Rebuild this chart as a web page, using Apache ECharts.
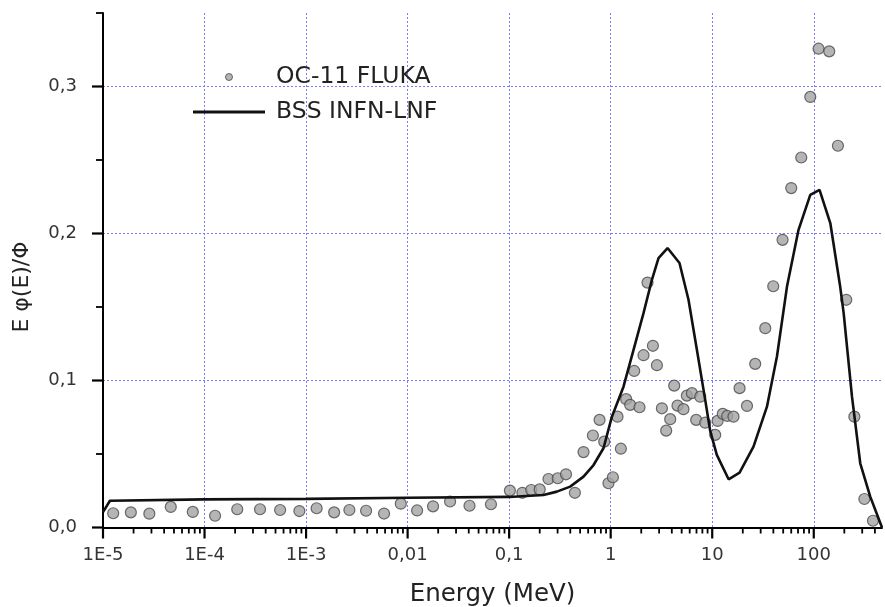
<!DOCTYPE html>
<html><head><meta charset="utf-8">
<script src="https://cdn.jsdelivr.net/npm/echarts@6/dist/echarts.min.js"></script>
<style>html,body{margin:0;padding:0;background:#fff}#c{width:885px;height:607px}</style>
</head><body><div id="c"></div>
<script>
// OC-11 FLUKA (scatter)
const flukaE = [1.26e-5,1.88e-5,2.86e-5,4.65e-5,7.66e-5,1.27e-4,2.10e-4,3.52e-4,5.55e-4,8.59e-4,
  1.27e-3,1.89e-3,2.67e-3,3.90e-3,5.86e-3,8.57e-3,0.0124,0.0178,0.0262,0.0407,0.0662,
  0.1017,0.135,0.165,0.200,0.244,0.301,0.363,0.444,0.540,0.668,0.777,0.863,0.951,1.051,
  1.167,1.26,1.42,1.556,1.705,1.923,2.105,2.305,2.606,2.853,3.194,3.52,3.857,4.223,4.55,
  5.21,5.63,6.31,6.95,7.62,8.53,10.7,11.3,12.7,14.06,16.2,18.6,22.0,26.5,33.3,39.9,49.3,
  60.0,75.3,92.4,111.5,142,173,209,251,315,383];
const flukaY = [0.0097,0.0103,0.0094,0.0140,0.0106,0.0080,0.0124,0.0124,0.0119,0.0112,
  0.0131,0.0103,0.0119,0.0114,0.0095,0.0162,0.0116,0.0144,0.0177,0.0148,0.0158,
  0.0251,0.0236,0.0255,0.0259,0.0330,0.0335,0.0362,0.0236,0.0513,0.0626,0.0732,0.0584,0.0301,0.0342,
  0.0754,0.0536,0.0873,0.0834,0.1065,0.0818,0.1172,0.1666,0.1236,0.1104,0.0811,0.0659,0.0737,0.0965,0.0829,
  0.0805,0.0897,0.0914,0.0732,0.0890,0.0713,0.0630,0.0725,0.0773,0.0759,0.0754,0.0948,0.0827,0.1113,0.1356,0.1641,0.1957,
  0.2309,0.2517,0.2929,0.3257,0.3239,0.2597,0.1549,0.0754,0.0194,0.0046];
// BSS INFN-LNF (line)
const bssE = [1e-5,1.17e-5,1e-4,1e-3,0.01,0.1,0.218,0.295,0.399,0.540,0.678,0.849,1.028,1.337,1.679,
  2.105,2.547,2.958,3.63,4.76,5.84,7.07,8.53,9.55,11.1,14.5,18.6,25.5,34.6,43.4,54.5,70.8,92.4,
  114,145.5,182,197,238,287,360,470];
const bssY = [0.0105,0.0182,0.0191,0.0195,0.0202,0.0208,0.0221,0.0244,0.0278,0.0346,0.0425,0.0539,0.0754,0.0958,0.1208,
  0.1458,0.1685,0.1833,0.1901,0.1799,0.1549,0.1208,0.0868,0.0657,0.0494,0.0328,0.0373,0.0550,0.0822,0.1163,0.1639,0.2025,0.2263,
  0.2297,0.2071,0.1639,0.1458,0.0890,0.0437,0.0210,0.0];
// ticks
const xMin = 1e-5, xMax = 470;
const xDecades = [-5,-4,-3,-2,-1,0,1,2];
const xTickLabels = ['1E-5','1E-4','1E-3','0,01','0,1','1','10','100'];
const yTicks = [0, 0.1, 0.2, 0.3];
const yTickLabels = ['0,0','0,1','0,2','0,3'];
const yMinorTicks = [0.05, 0.15, 0.25, 0.35];
const yMax = 0.35;
const yTitle = 'E \u03c6(E)/\u03a6';

const lgMax = Math.log10(xMax), lgMin = Math.log10(xMin);
const xMajorE = xDecades.map(d => Math.pow(10, d));
const xMinorE = [];
xDecades.forEach(d => { for (let m = 2; m <= 9; m++) { const v = m * Math.pow(10, d); if (v < xMax) xMinorE.push(v); } });

const FONT = 'DejaVu Sans';
const TICK = '#000';
const gridLine = {show: true, lineStyle: {color: '#7c7cff', width: 1, type: [2, 2]}};
const titleGraphic = {id: 'ytitle', type: 'text', x: 22, y: 287, rotation: Math.PI / 2,
  style: {text: yTitle, fontFamily: FONT, fontSize: 22, fill: '#222', align: 'center', verticalAlign: 'middle'}};

const chart = echarts.init(document.getElementById('c'), null, {renderer: 'canvas'});
chart.setOption({
  animation: false,
  backgroundColor: '#fff',
  grid: {left: 103, right: 3, top: 13, bottom: 79.5, containLabel: false, outerBoundsMode: 'none'},
  legend: [
    {data: ['OC-11 FLUKA'], left: 220, top: 60, orient: 'vertical', icon: 'circle',
     itemStyle: {color: '#a3a3a3', borderColor: '#4a4a4a', borderWidth: 1},
     itemWidth: 72, itemHeight: 7, textStyle: {fontFamily: FONT, fontSize: 23.5, color: '#222', padding: [0,0,0,6]}},
    {data: ['BSS INFN-LNF'], left: 188, top: 95, orient: 'vertical', icon: 'rect',
     itemStyle: {color: '#111'},
     itemWidth: 72, itemHeight: 3, textStyle: {fontFamily: FONT, fontSize: 23.5, color: '#222', padding: [0,0,0,6]}}
  ],
  graphic: [titleGraphic],
  xAxis: [
    {type: 'log', logBase: 10, min: xMin, max: xMax, position: 'bottom',
     axisLine: {show: false, onZero: false}, axisTick: {show: false}, axisLabel: {show: false}, splitLine: {show: false}},
    {type: 'value', min: lgMin, max: lgMax, position: 'bottom',
     name: 'Energy (MeV)', nameLocation: 'middle', nameGap: 55,
     nameTextStyle: {fontFamily: FONT, fontSize: 24.5, color: '#222'},
     axisLine: {show: true, onZero: false, lineStyle: {color: '#000', width: 2}},
     axisTick: {show: false, customValues: xDecades},
     axisLabel: {show: true, customValues: xDecades, margin: 19, fontFamily: FONT, fontSize: 18, color: '#333',
       formatter: v => xTickLabels[xDecades.indexOf(Math.round(v))] || ''},
     splitLine: gridLine}
  ],
  yAxis: [
    {type: 'value', min: 0, max: yMax, interval: 0.1, position: 'left',
     axisLine: {show: true, onZero: false, lineStyle: {color: '#000', width: 2}},
     axisTick: {show: false, customValues: yTicks},
     axisLabel: {show: true, customValues: yTicks, margin: 26, fontFamily: FONT, fontSize: 18, color: '#333',
       formatter: v => yTickLabels[yTicks.findIndex(t => Math.abs(t - v) < 1e-9)] || ''},
     splitLine: gridLine}
  ],
  series: [
    {name: 'OC-11 FLUKA', type: 'scatter', xAxisIndex: 0, yAxisIndex: 0,
     data: flukaE.map((e, i) => [e, flukaY[i]]),
     symbol: 'circle', symbolSize: 11, z: 2,
     itemStyle: {color: '#a3a3a3', borderColor: '#4a4a4a', borderWidth: 1.2}},
    {name: 'BSS INFN-LNF', type: 'line', xAxisIndex: 0, yAxisIndex: 0,
     data: bssE.map((e, i) => [e, bssY[i]]),
     showSymbol: false, symbol: 'none', z: 3,
     lineStyle: {color: '#111', width: 2.6}, itemStyle: {color: '#111'}}
  ]
});

// Outward axis ticks, positioned through the chart's own scales
const y0 = chart.convertToPixel({yAxisIndex: 0}, 0);
const xAxisPx = chart.convertToPixel({xAxisIndex: 0}, xMin);
const tickGraphics = [];
function tick(x1, y1, x2, y2, w) {
  tickGraphics.push({type: 'line', z: 100, silent: true,
    shape: {x1: x1, y1: y1, x2: x2, y2: y2}, style: {stroke: TICK, lineWidth: w}});
}
xMajorE.forEach(e => { const px = chart.convertToPixel({xAxisIndex: 0}, e); tick(px, y0, px, y0 + 11, 2.2); });
xMinorE.forEach(e => { const px = chart.convertToPixel({xAxisIndex: 0}, e); tick(px, y0, px, y0 + 6, 1.8); });
yTicks.forEach(v => { const py = chart.convertToPixel({yAxisIndex: 0}, v); tick(xAxisPx - 11, py, xAxisPx, py, 2.2); });
yMinorTicks.forEach(v => { const py = chart.convertToPixel({yAxisIndex: 0}, v); tick(xAxisPx - 7, py, xAxisPx, py, 1.8); });
chart.setOption({graphic: [titleGraphic].concat(tickGraphics)}, {replaceMerge: ['graphic']});
</script></body></html>
